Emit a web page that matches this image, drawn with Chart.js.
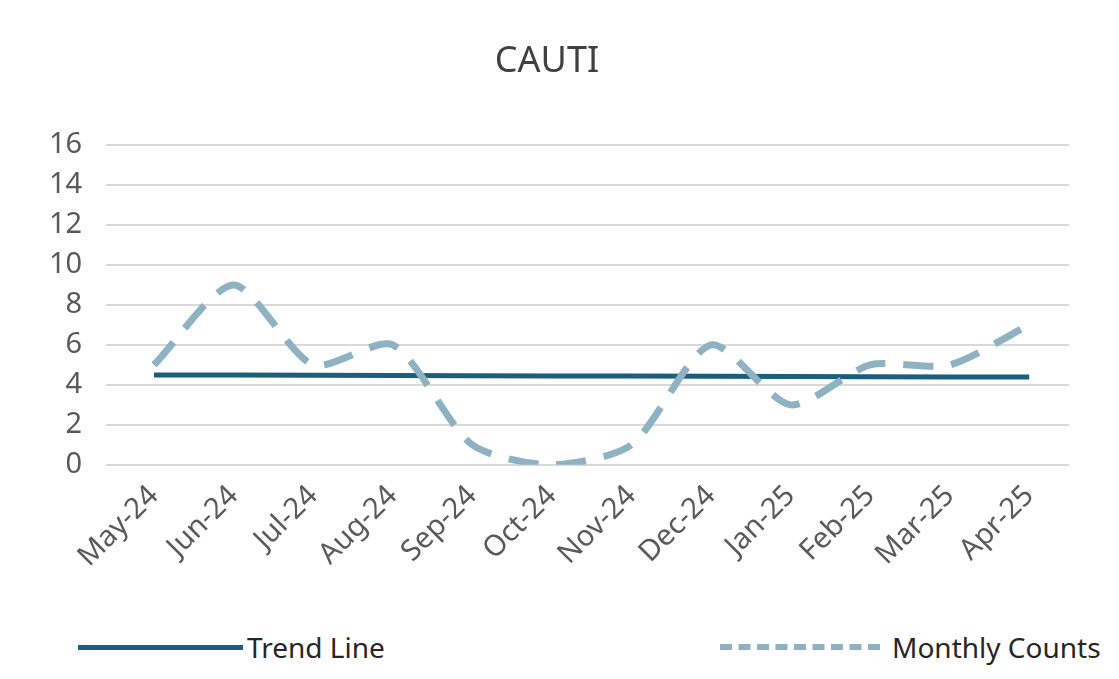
<!DOCTYPE html>
<html><head><meta charset="utf-8">
<script src="https://cdn.jsdelivr.net/npm/chart.js@4"></script>
<style>
html,body{margin:0;padding:0;background:#fff;width:1119px;height:679px;overflow:hidden;font-family:"Liberation Sans",Arial,sans-serif}
#wrap{position:absolute;left:0;top:0;width:1119px;height:600px}
.leg{position:absolute;top:628px;font-size:28px;color:#262626;display:flex;align-items:center;font-family:"Noto Sans",sans-serif}
.leg span.sw{display:inline-block;width:165px;height:0;margin-right:4px}
</style></head><body>
<div id="wrap"><canvas id="c"></canvas></div>
<div class="leg" style="left:78px"><span class="sw" style="border-top:5px solid #1b5e7e"></span>Trend Line</div>
<div class="leg" style="left:720px"><span class="sw" style="border-top:6px dashed #8fb2c3;width:160px;margin-right:12px"></span>Monthly Counts</div>
<script>
const categories=["May-24","Jun-24","Jul-24","Aug-24","Sep-24","Oct-24","Nov-24","Dec-24","Jan-25","Feb-25","Mar-25","Apr-25"];
const monthlyCounts=[5,9,5,6,1,0,1,6,3,5,5,7];
const trendLine=[4.5,4.49,4.48,4.47,4.46,4.45,4.44,4.43,4.42,4.41,4.4,4.4];
const yTicks=[0,2,4,6,8,10,12,14,16];
new Chart(document.getElementById('c'),{
 type:'line',
 data:{labels:categories,datasets:[
  {label:'Monthly Counts',data:monthlyCounts,borderColor:'#8fb2c3',borderWidth:7,borderDash:[30,18],tension:0.25,pointRadius:0,fill:false},
  {label:'Trend Line',data:trendLine,borderColor:'#1b5e7e',borderWidth:5,tension:0,pointRadius:0,fill:false}
 ]},
 options:{responsive:true,maintainAspectRatio:false,animation:false,
  layout:{padding:{left:25,right:50,top:10,bottom:20}},
  plugins:{legend:{display:false},tooltip:{enabled:false},
   title:{display:true,text:'CAUTI',color:'#404040',font:{size:36,family:'Noto Sans',weight:'normal'},padding:{top:30,bottom:62}}},
  scales:{
   x:{offset:true,grid:{display:false},border:{display:false},
      ticks:{color:'#595959',font:{size:29,family:'Noto Sans'},maxRotation:45,minRotation:45,padding:6}},
   y:{min:0,max:16,afterBuildTicks:a=>{a.ticks=yTicks.map(v=>({value:v}));},
      grid:{color:'#d9d9d9',lineWidth:2},border:{display:false},
      ticks:{color:'#595959',font:{size:29,family:'Noto Sans'},padding:24}}
  }}
});
</script>
</body></html>
